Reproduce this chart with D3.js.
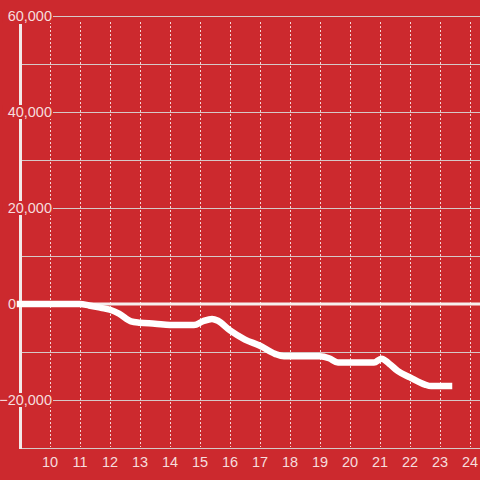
<!DOCTYPE html>
<html><head><meta charset="utf-8">
<script src="https://cdn.jsdelivr.net/npm/d3@7"></script>
<style>html,body{margin:0;padding:0;background:#cc292e;}svg{display:block;}</style>
</head><body>
<svg id="c" width="480" height="480"></svg>
<script>
const hours = [9, 10, 11, 11.3, 11.7, 12, 12.3, 12.7, 13, 13.5, 14, 14.5, 14.8, 15.1, 15.4, 15.6, 16, 16.5, 17, 17.5, 17.8, 18, 19, 19.3, 19.6, 20, 20.8, 21.05, 21.3, 21.6, 22, 22.5, 22.7, 23.3];
const values = [0, 0, 0, -300, -800, -1200, -2000, -3600, -3900, -4100, -4400, -4400, -4400, -3600, -3100, -3500, -5500, -7400, -8700, -10400, -10900, -10900, -10900, -11300, -12200, -12200, -12200, -11400, -12400, -14000, -15300, -16800, -17100, -17100];
const xTicks = [10, 11, 12, 13, 14, 15, 16, 17, 18, 19, 20, 21, 22, 23, 24];
const yGrid = [-30000, -20000, -10000, 0, 10000, 20000, 30000, 40000, 50000, 60000];
const yLabels = [-20000, 0, 20000, 40000, 60000];

const svg = d3.select("#c");
const x = d3.scaleLinear().domain([9, 24]).range([20, 470]);
const y = d3.scaleLinear().domain([-30000, 60000]).range([448, 16]);
const fmt = d3.format(",");
const txt = "rgba(255,255,255,0.85)";
const font = "Liberation Sans, Arial, sans-serif";

// horizontal grid
svg.append("g").selectAll("line").data(yGrid.filter(d => d !== 0)).join("line")
  .attr("x1", 20).attr("x2", 480)
  .attr("y1", d => y(d) + 0.5).attr("y2", d => y(d) + 0.5)
  .attr("stroke", "#d6c8c8").attr("stroke-width", 1);

// vertical dotted grid
svg.append("g").selectAll("line").data(xTicks).join("line")
  .attr("x1", d => x(d) + 0.5).attr("x2", d => x(d) + 0.5)
  .attr("y1", 22).attr("y2", 447)
  .attr("stroke", "rgba(255,255,255,0.8)").attr("stroke-width", 1)
  .attr("stroke-dasharray", "2,2");

// y axis line
svg.append("line").attr("x1", 20.5).attr("x2", 20.5).attr("y1", 24).attr("y2", 449)
  .attr("stroke", "#f3e9e9").attr("stroke-width", 3);

// zero line
svg.append("line").attr("x1", 20).attr("x2", 480)
  .attr("y1", y(0)).attr("y2", y(0))
  .attr("stroke", "#f6eeee").attr("stroke-width", 3);

// data line
const line = d3.line().x((d, i) => x(hours[i])).y(d => y(d)).curve(d3.curveMonotoneX);
svg.append("path").datum(values).attr("d", line)
  .attr("fill", "none").attr("stroke", "#ffffff").attr("stroke-width", 6.5)
  .attr("stroke-linejoin", "round").attr("stroke-linecap", "square");

// y labels with background (zero label sits left of the axis, no box)
const yl = svg.append("g").selectAll("g").data(yLabels).join("g")
  .attr("transform", d => `translate(${d === 0 ? 16 : 52},${y(d)})`);
yl.filter(d => d !== 0).append("rect").attr("x", d => -(fmt(d).length * 7.9) - 2).attr("y", -7)
  .attr("width", d => fmt(d).length * 7.9 + 3).attr("height", 14).attr("fill", "#cc292e");
yl.append("text").text(d => fmt(d)).attr("text-anchor", "end").attr("dy", "0.36em")
  .attr("fill", txt).attr("font-family", font).attr("font-size", 14.5);

// x labels
svg.append("g").selectAll("text").data(xTicks).join("text")
  .attr("x", d => x(d)).attr("y", 467).attr("text-anchor", "middle")
  .text(d => d).attr("fill", txt)
  .attr("font-family", font).attr("font-size", 14.5);
</script>
</body></html>
